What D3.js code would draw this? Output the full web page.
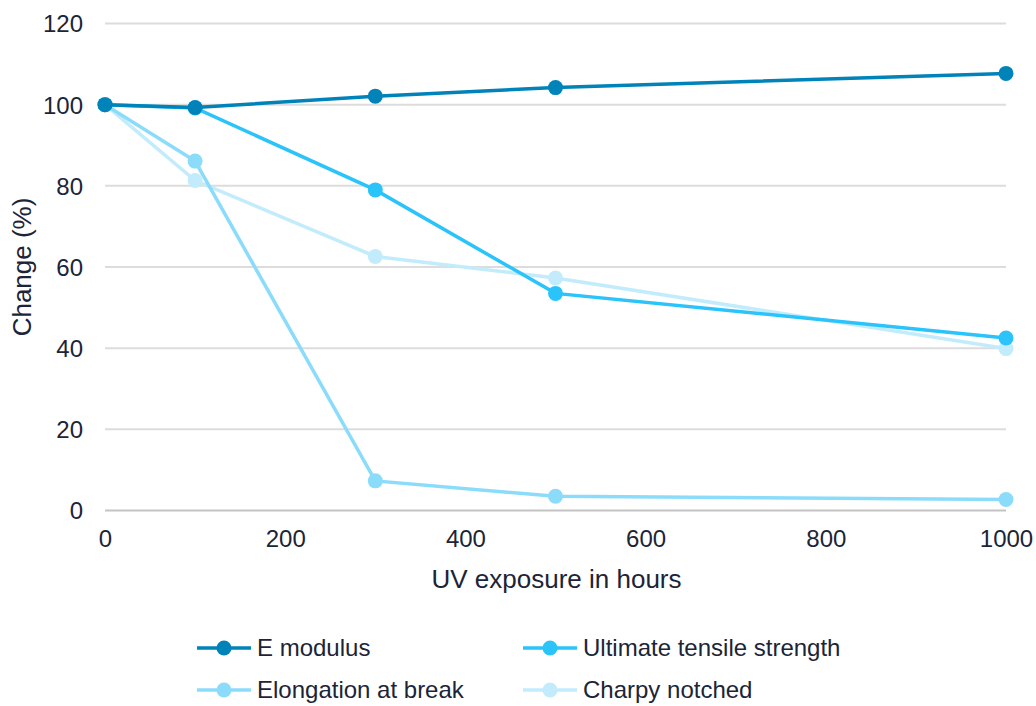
<!DOCTYPE html>
<html>
<head>
<meta charset="utf-8">
<script src="https://cdn.jsdelivr.net/npm/d3@7"></script>
<style>
  body { margin: 0; background: #fff; }
  text { font-family: "Liberation Sans", Arial, sans-serif; fill: #1c2438; }
</style>
</head>
<body>
<div id="chart"></div>
<script>
var hours = [0, 100, 300, 500, 1000]
var eModulus = [100, 99.3, 102.1, 104.2, 107.7]
var tensile = [100, 99.2, 79.0, 53.5, 42.5]
var elongation = [100, 86.1, 7.3, 3.5, 2.7]
var charpy = [100, 81.3, 62.6, 57.3, 39.9]
var seriesNames = ["E modulus", "Ultimate tensile strength", "Elongation at break", "Charpy notched"]
var seriesColors = ["#0083b8", "#2ac3fa", "#8bdcfb", "#c2ecfc"]
var xTicks = [0, 200, 400, 600, 800, 1000]
var yTicks = [0, 20, 40, 60, 80, 100, 120]

var width = 1036, height = 706
var margins = {left: 105, right: 30, top: 23.5, bottom: 195.5}

var svg = d3.select("#chart").append("svg")
    .attr("width", width)
    .attr("height", height)

var xScale = d3.scaleLinear().domain([0, 1000]).range([margins.left, 1006])
var yScale = d3.scaleLinear().domain([0, 120]).range([510.5, margins.top])

// grid lines
svg.append("g").selectAll("line")
    .data(yTicks)
    .enter()
    .append("line")
    .attr("x1", xScale(0))
    .attr("x2", xScale(1000))
    .attr("y1", function(d){ return yScale(d) })
    .attr("y2", function(d){ return yScale(d) })
    .style("stroke", function(d){ return d === 0 ? "#c4c4c4" : "#dcdcdc" })
    .style("stroke-width", 2)

// y tick labels
var yAxis = d3.axisLeft(yScale).tickValues(yTicks).tickSize(0).tickPadding(22)
svg.append("g")
    .attr("transform", "translate(" + margins.left + ",0)")
    .call(yAxis)
    .call(function(g){ g.select(".domain").remove() })
    .selectAll("text")
    .style("font-size", "24px")
    .attr("dy", "0.35em")

// x tick labels
var xAxis = d3.axisBottom(xScale).tickValues(xTicks).tickFormat(d3.format("d")).tickSize(0).tickPadding(19)
svg.append("g")
    .attr("transform", "translate(0,510.5)")
    .call(xAxis)
    .call(function(g){ g.select(".domain").remove() })
    .selectAll("text")
    .style("font-size", "24px")

svg.append("text")
    .attr("x", xScale(500) + 1)
    .attr("y", 588)
    .attr("text-anchor", "middle")
    .style("font-size", "26px")
    .text("UV exposure in hours")

svg.append("text")
    .attr("transform", "translate(31," + (yScale(60) + 0) + ") rotate(-90)")
    .attr("text-anchor", "middle")
    .style("font-size", "26px")
    .text("Change (%)")

var allSeries = [eModulus, tensile, elongation, charpy]
var line = d3.line()
    .x(function(d, i){ return xScale(hours[i]) })
    .y(function(d){ return yScale(d) })

// draw from last to first so E modulus stays on top
var order = [3, 2, 1, 0]
order.forEach(function(k){
    var g = svg.append("g")
    g.append("path")
        .datum(allSeries[k])
        .attr("d", line)
        .style("fill", "none")
        .style("stroke", seriesColors[k])
        .style("stroke-width", 3.5)
    g.selectAll("circle")
        .data(allSeries[k])
        .enter()
        .append("circle")
        .attr("cx", function(d, i){ return xScale(hours[i]) })
        .attr("cy", function(d){ return yScale(d) })
        .attr("r", 7.5)
        .style("fill", seriesColors[k])
})

// legend
var legendPos = [[197, 648], [523, 648], [197, 690], [523, 690]]
seriesNames.forEach(function(name, i){
    var lg = svg.append("g")
        .attr("transform", "translate(" + legendPos[i][0] + "," + legendPos[i][1] + ")")
    lg.append("line")
        .attr("x1", 0).attr("x2", 54)
        .attr("y1", 0).attr("y2", 0)
        .style("stroke", seriesColors[i])
        .style("stroke-width", 3.5)
    lg.append("circle")
        .attr("cx", 27).attr("cy", 0).attr("r", 7.5)
        .style("fill", seriesColors[i])
    lg.append("text")
        .attr("x", 60)
        .attr("y", 0)
        .attr("dy", "0.35em")
        .style("font-size", "24px")
        .text(name)
})
</script>
</body>
</html>
